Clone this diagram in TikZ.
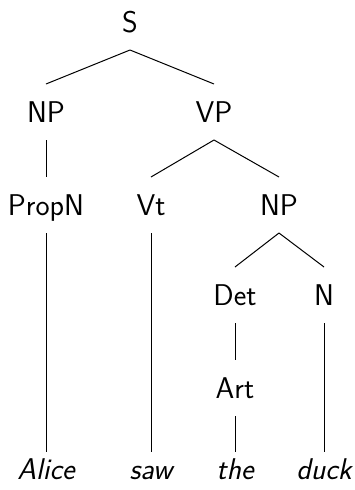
\documentclass[tikz,border=0pt]{standalone}
\usepackage{fontspec}
\begin{document}
\begin{tikzpicture}[x=1pt,y=-1pt,
  every node/.style={font=\fontsize{30}{33}\selectfont\sffamily,
    inner sep=0pt, outer sep=0pt, text height=20.5pt, text depth=0pt},
  cat/.style={minimum height=56pt},
  word/.style={minimum height=36pt, font=\fontsize{30}{33}\selectfont\sffamily\itshape},
  branch/.style={line width=1pt, black}]
\useasboundingbox (0,0) rectangle (355,490);

% categories
\node[cat] (s)     at (130,22)  {S};
\node[cat] (np1)   at (46,112)  {NP};
\node[cat] (vp)    at (214,112) {VP};
\node[cat] (propn) at (46,205)  {PropN};
\node[cat] (vt)    at (151,205) {Vt};
\node[cat] (np2)   at (279,205) {NP};
\node[cat] (det)   at (235,295) {Det};
\node[cat] (n)     at (324,295) {N};
\node[cat] (art)   at (235,388) {Art};

% words
\node[word] (alice) at (46,469.5)  {Alice};
\node[word] (saw)   at (151,469.5) {saw};
\node[word] (the)   at (235,469.5) {the};
\node[word] (duck)  at (324,469.5) {duck};

% branches
\draw[branch] (s.south) -- (np1.north);
\draw[branch] (s.south) -- (vp.north);
\draw[branch] (np1.south) -- (propn.north);
\draw[branch] (vp.south) -- (vt.north);
\draw[branch] (vp.south) -- (np2.north);
\draw[branch] (np2.south) -- (det.north);
\draw[branch] (np2.south) -- (n.north);
\draw[branch] (det.south) -- (art.north);
\draw[branch] (propn.south) -- (alice.north);
\draw[branch] (vt.south) -- (saw.north);
\draw[branch] (art.south) -- (the.north);
\draw[branch] (n.south) -- (duck.north);
\end{tikzpicture}
\end{document}
